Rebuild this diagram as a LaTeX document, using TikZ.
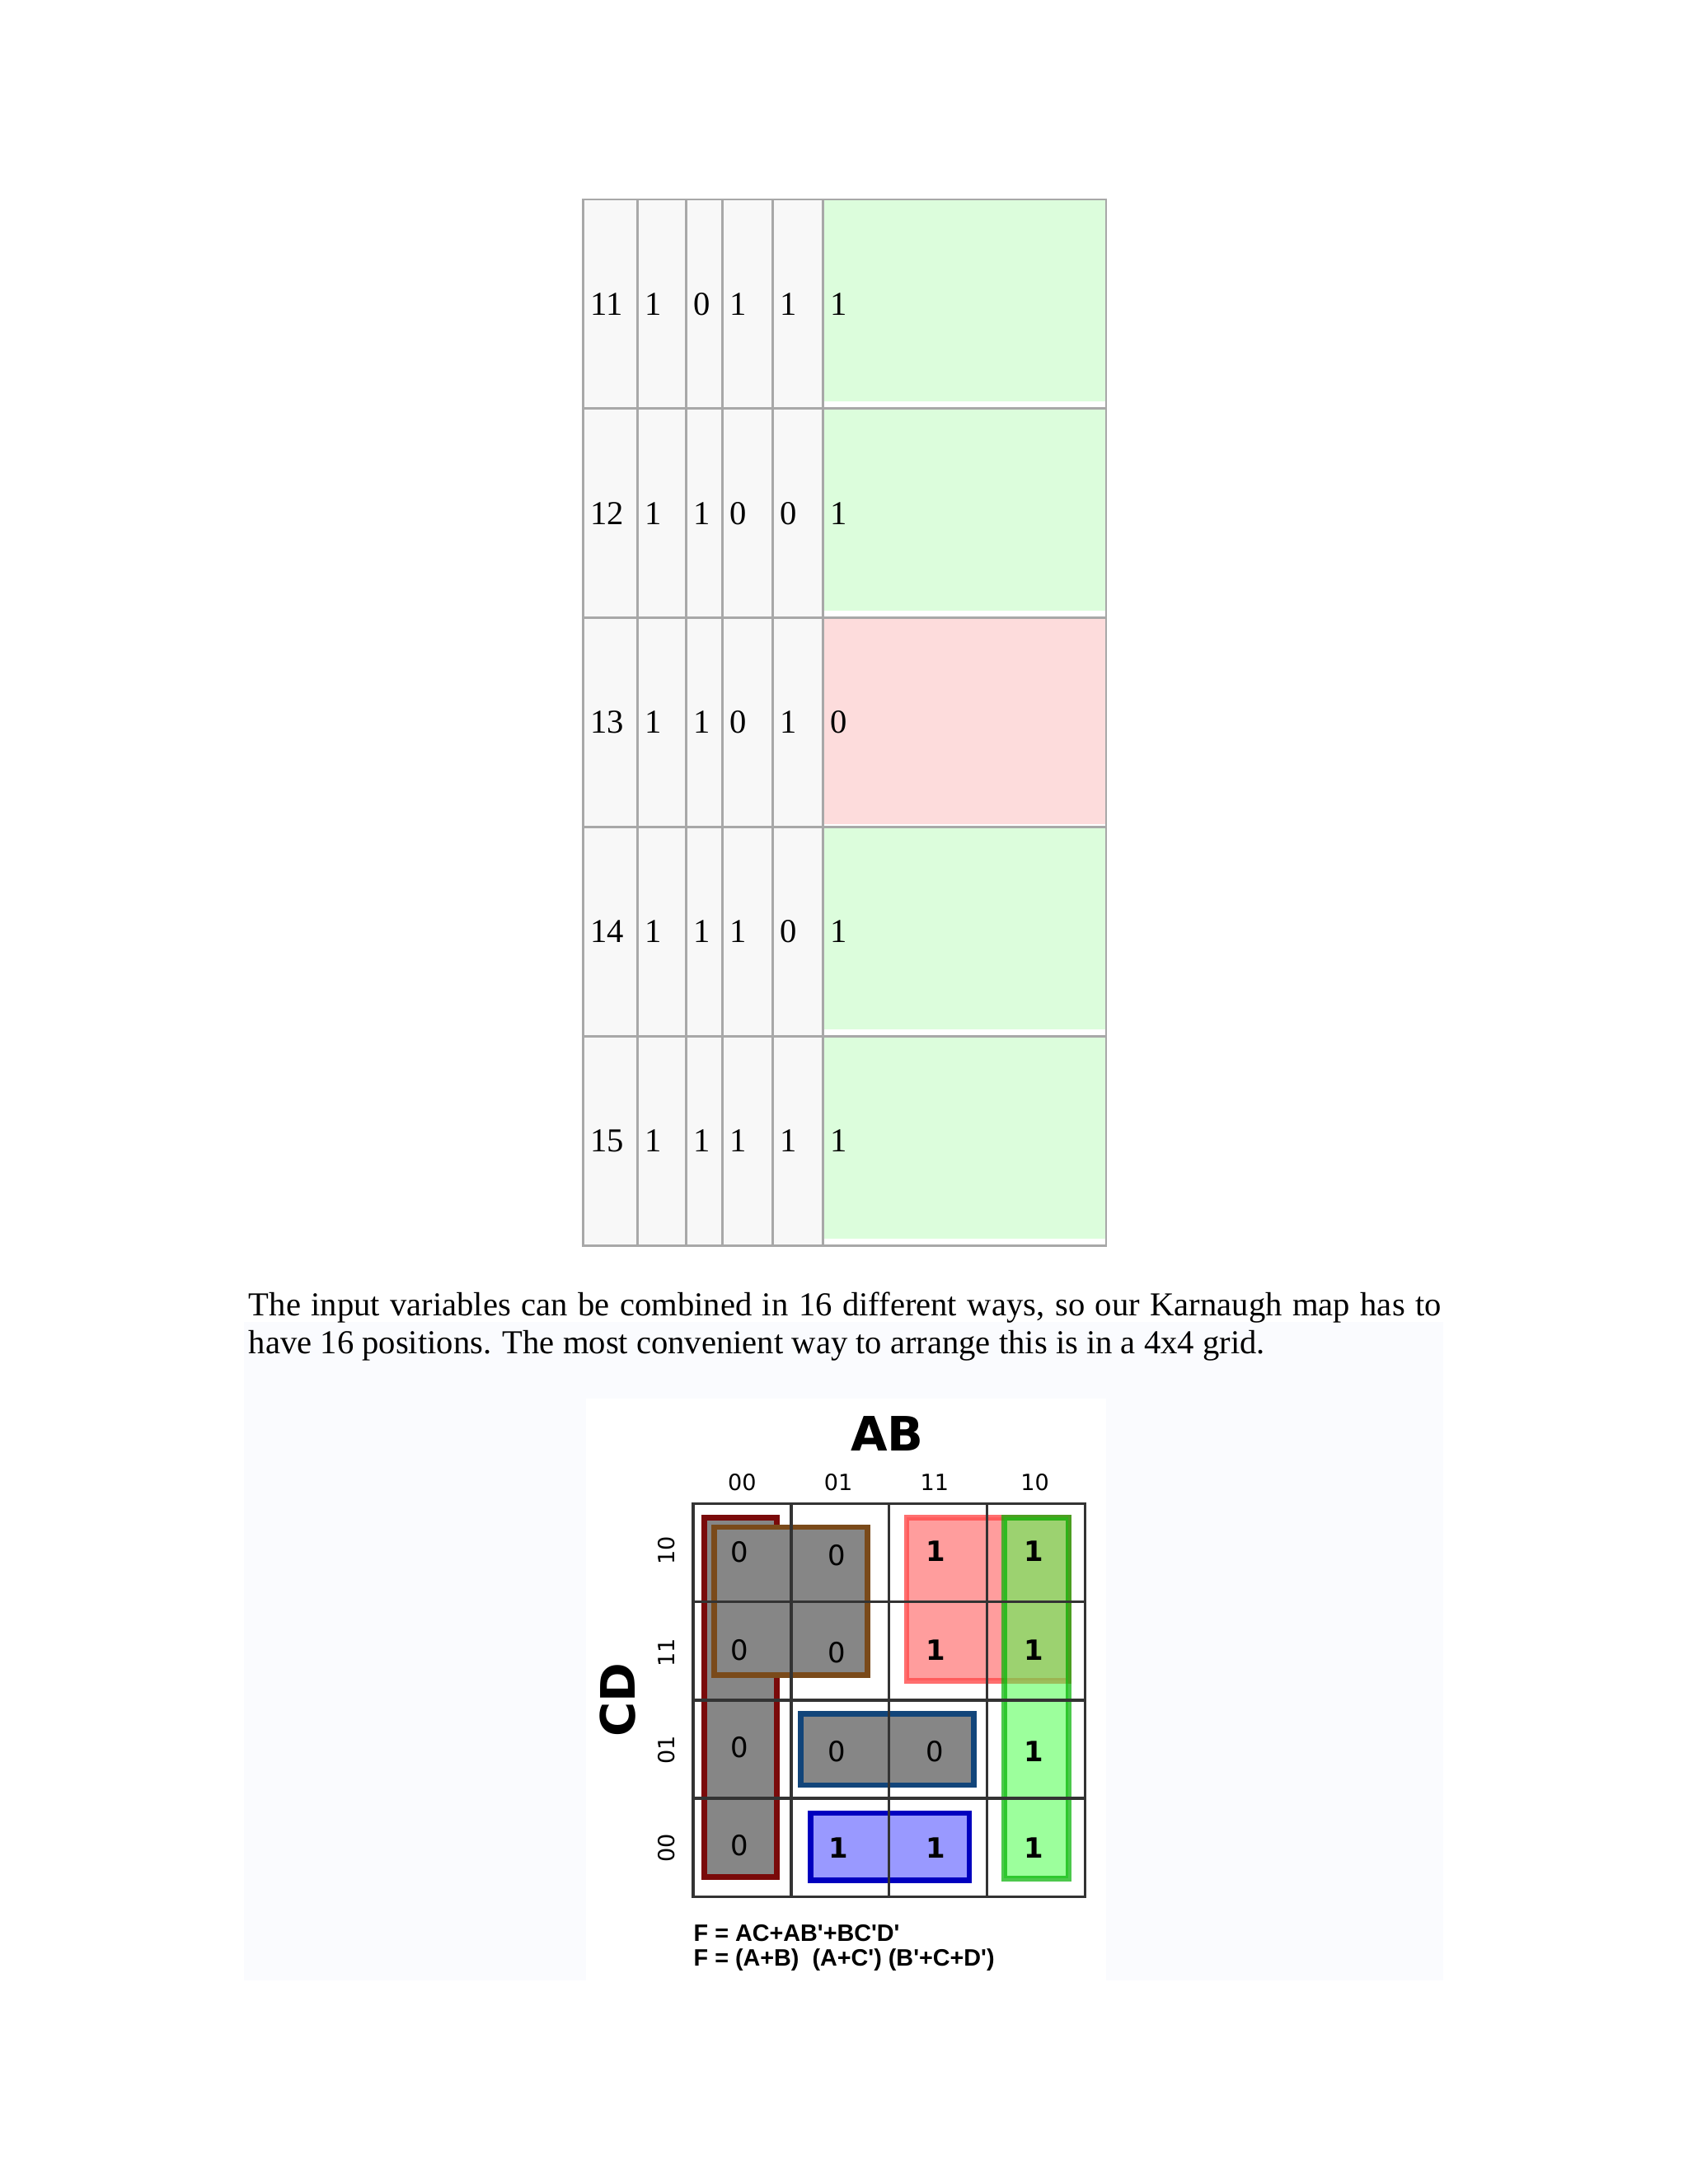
\documentclass[tikz,border=0pt]{standalone}
\usepackage{fontspec}
\setmainfont{Liberation Serif}
\newfontfamily\kmfont{DejaVu Sans}
\newfontfamily\fmfont{Liberation Sans}
\usetikzlibrary{positioning}
\definecolor{tgray}{HTML}{A8A8A8}
\definecolor{tcell}{HTML}{F8F8F8}
\definecolor{tgreen}{HTML}{DCFDDC}
\definecolor{tred}{HTML}{FDDCDC}
\definecolor{pagebl}{HTML}{FAFBFE}
\definecolor{kred}{HTML}{7A0A0A}
\definecolor{kbrown}{HTML}{7A4A1A}
\definecolor{knavy}{HTML}{12457A}
\begin{document}
\begin{tikzpicture}[x=0.5pt,y=-0.5pt,
  tcellbox/.style={draw=tgray,line width=0.8pt},
  tval/.style={anchor=west,font=\fontsize{12}{14}\selectfont,inner sep=0pt},
  kgrid/.style={line width=1pt,draw=black!80},
  kval/.style={font=\kmfont\fontsize{10}{12}\selectfont},
  kone/.style={font=\kmfont\bfseries\fontsize{10}{12}\selectfont},
  klab/.style={font=\kmfont\fontsize{8}{10}\selectfont},
  kvar/.style={font=\kmfont\bfseries\fontsize{17}{20}\selectfont},
  fline/.style={anchor=west,inner sep=0pt,font=\fmfont\bfseries\fontsize{8.5}{10}\selectfont},
  loop/.style={line width=2pt}]

\useasboundingbox (0,0) rectangle (1210,1566);
\fill[white] (0,0) rectangle (1210,1566);
\fill[pagebl] (175,948) rectangle (1035,1420);
\fill[white] (420,1003) rectangle (793,1420);

% truth table rows
\foreach \y/\n/\a/\b/\c/\d/\f in {143/11/1/0/1/1/1, 293/12/1/1/0/0/1, 443/13/1/1/0/1/0, 593/14/1/1/1/0/1, 743/15/1/1/1/1/1}{
  \fill[tcell] (418,\y) rectangle (590,\y+150);
  \ifnum\f=1 \fill[tgreen] (590,\y) rectangle (793,\y+145);
  \else \fill[tred] (590,\y) rectangle (793,\y+148); \fi
  \foreach \xa/\xb in {418/457,457/492,492/518,518/554,554/590,590/793}
    \draw[tcellbox] (\xa,\y) rectangle (\xb,\y+150);
  \node[tval] (n\n) at (423,\y+75) {\n};
  \node[tval] (a\n) at (462,\y+75) {\a};
  \node[tval] (b\n) at (497,\y+75) {\b};
  \node[tval] (c\n) at (523,\y+75) {\c};
  \node[tval] (d\n) at (559,\y+75) {\d};
  \node[tval] (f\n) at (595,\y+75) {\f};
}

\node[anchor=north west,inner sep=0pt,text width=427.5pt,align=justify,
  font=\fontsize{12}{13.6}\selectfont] (para) at (178,926)
  {The input variables can be combined in 16 different ways, so our Karnaugh map has to\linebreak
   have 16 positions. The most convenient way to arrange this is in a 4x4 grid.};

% K-map groups (cell size 70.25 x 70.5, origin 497,1078)
\filldraw[fill=gray!95,draw=kred,loop] (505,1088) rectangle (557,1346);
\filldraw[fill=gray!95,draw=kbrown,loop] (512,1095) rectangle (622,1201);
\filldraw[fill=gray!95,draw=knavy,loop] (574,1229) rectangle (698,1280);
\filldraw[fill=blue!40,draw=blue!75!black,loop] (581,1300) rectangle (695,1348);
\filldraw[fill=red!45,fill opacity=0.85,draw=red!70,draw opacity=0.8,loop] (650,1088) rectangle (766,1205);
\filldraw[fill=green!70,fill opacity=0.55,draw=green!70!black,draw opacity=0.7,loop] (720,1088) rectangle (766,1347);

\draw[kgrid] (497,1078) rectangle (778,1360);
\draw[kgrid] (567.25,1078) -- (567.25,1360) (637.5,1078) -- (637.5,1360) (707.75,1078) -- (707.75,1360)
  (497,1148.5) -- (778,1148.5) (497,1219) -- (778,1219) (497,1289.5) -- (778,1289.5);

\node[kvar] (ab) at (636,1028) {AB};
\node[kvar,rotate=90] (cd) at (443,1219) {CD};
\foreach \x/\t in {532/00,601/01,670/11,742/10}
  \node[klab] (col\t) at (\x,1063) {\t};
\foreach \y/\t in {1112/10,1185/11,1255/01,1325/00}
  \node[klab,rotate=90] (row\t) at (478,\y) {\t};

\foreach \x/\y/\v in {530/1113/0,600/1115/0,530/1183/0,600/1185/0,530/1253/0,600/1256/0,670/1256/0,530/1323/0}
  \node[kval] at (\x,\y) {\v};
\foreach \x/\y in {671/1112,741/1112,671/1183,741/1183,741/1256,601/1325,671/1325,741/1325}
  \node[kone] at (\x,\y) {1};

\node[fline] (sop) at (497,1386) {F = AC+AB'+BC'D'};
\node[fline] (pos) at (497,1405) {F = (A+B)\ \ (A+C') (B'+C+D')};
\end{tikzpicture}
\end{document}
